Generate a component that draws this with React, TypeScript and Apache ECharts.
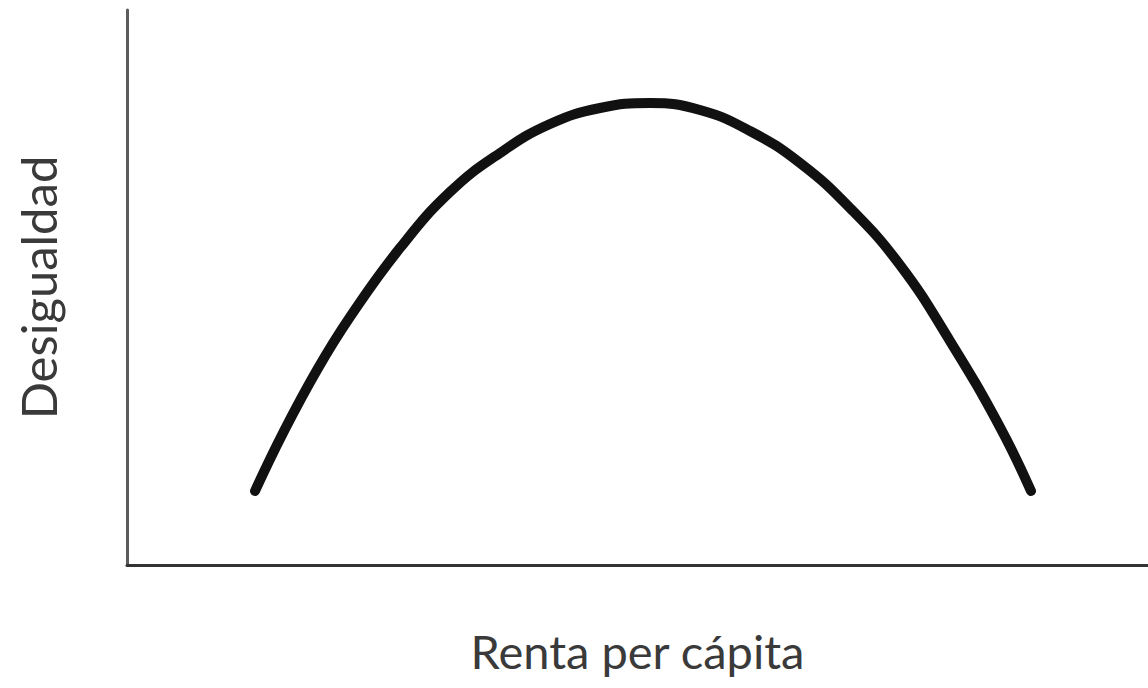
import React, { useEffect, useRef } from "react";
import * as echarts from "echarts";

// Renta per cápita (x) and Desigualdad (y) (axis units 0-100)
const incomeValues = [12.54, 15.28, 18.61, 21.84, 26.74, 31.64, 36.53, 41.43, 46.33, 51.22, 56.12, 61.02, 65.92, 70.81, 75.71, 80.61, 85.5, 88.54];
const inequalityValues = [13.33, 23.78, 35.14, 44.68, 57.12, 67.21, 74.23, 79.46, 82.34, 83.24, 81.98, 78.2, 72.43, 64.32, 54.05, 40.36, 24.86, 13.33];
const xAxisTitle = "Renta per cápita";
const yAxisTitle = "Desigualdad";

export default function App() {
  const ref = useRef<HTMLDivElement>(null);
  useEffect(() => {
    if (!ref.current) return;
    const chart = echarts.init(ref.current, null, { renderer: "svg" });
    const data = incomeValues.map((x, i) => [x, inequalityValues[i]]);
    chart.setOption({
      animation: false,
      backgroundColor: "#ffffff",
      grid: { left: 127, right: 0, top: 10, bottom: 123, containLabel: false },
      xAxis: {
        type: "value",
        min: 0,
        max: 100,
        name: xAxisTitle,
        nameLocation: "middle",
        nameGap: 62,
        nameTextStyle: { fontFamily: "Lato", fontSize: 47, color: "#3a3a3a", verticalAlign: "top" },
        axisLine: { show: true, lineStyle: { color: "#333333", width: 3 } },
        axisTick: { show: false },
        axisLabel: { show: false },
        splitLine: { show: false },
      },
      yAxis: {
        type: "value",
        min: 0,
        max: 100,
        name: yAxisTitle,
        nameLocation: "middle",
        nameGap: 65,
        nameTextStyle: { fontFamily: "Lato", fontSize: 49, color: "#3a3a3a" },
        axisLine: { show: true, lineStyle: { color: "#5c5c5c", width: 3 } },
        axisTick: { show: false },
        axisLabel: { show: false },
        splitLine: { show: false },
      },
      series: [
        {
          type: "line",
          data,
          smooth: 0.45,
          symbol: "none",
          lineStyle: { color: "#111111", width: 10, cap: "round", join: "round" },
        },
      ],
    });
    return () => chart.dispose();
  }, []);
  return (
    <div
      ref={ref}
      style={{ position: "fixed", left: 0, top: 0, width: 1148, height: 688, background: "#fff" }}
    />
  );
}
